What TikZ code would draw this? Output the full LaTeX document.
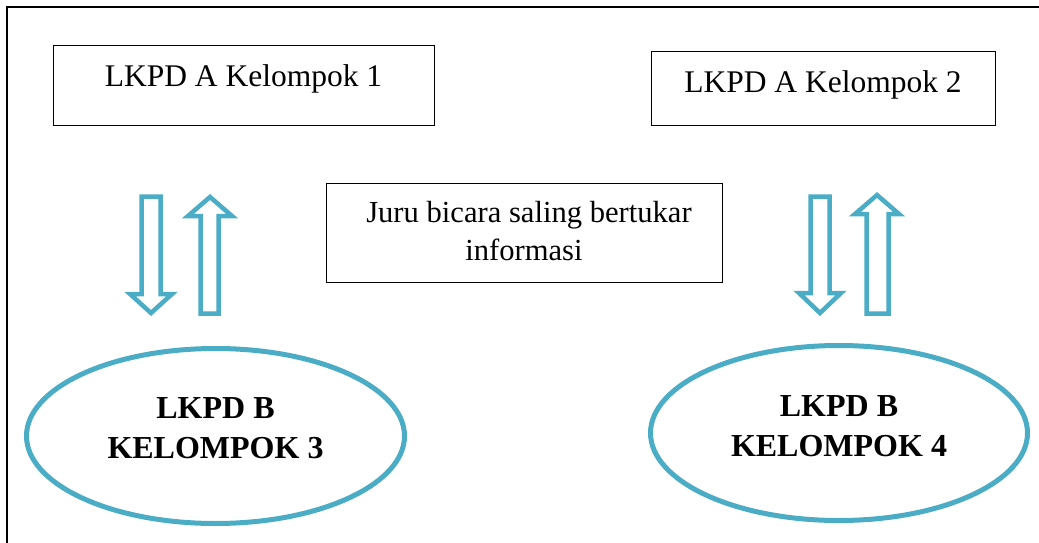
\documentclass[tikz,border=0pt]{standalone}
\usepackage{fontspec}
\setmainfont{Liberation Serif}
\definecolor{accent}{HTML}{4BACC6}
\tikzset{
  plainbox/.style={draw=black, line width=1pt, rectangle, inner sep=0pt},
  ovalbox/.style={draw=accent, line width=5pt, ellipse, inner sep=0pt},
  blockarrow/.style={draw=accent, line width=4.5pt, line join=miter, fill=white},
  boxtext/.style={font=\fontsize{31.5}{36}\selectfont, inner sep=0pt, anchor=base},
  midtext/.style={font=\fontsize{30.6}{36}\selectfont, inner sep=0pt, anchor=base},
  boldtext/.style={font=\fontsize{32}{36}\selectfont\bfseries, inner sep=0pt, anchor=base},
}
\usetikzlibrary{shapes.geometric}
\begin{document}
\begin{tikzpicture}[x=1pt,y=-1pt]
\useasboundingbox (0,0) rectangle (1039,543);
% frame
\coordinate (fbl) at (7,543);
\coordinate (ftl) at (7,7);
\coordinate (ftr) at (1039,7);
\draw[line width=1.2pt] (fbl) -- (ftl) -- (ftr);
% top boxes
\node[plainbox, minimum width=381pt, minimum height=79pt] (box1) at (243.5,85.5) {};
\node[boxtext] (t1) at (243.5,87) {LKPD A Kelompok 1};
\node[plainbox, minimum width=344pt, minimum height=73pt] (box2) at (823,88.5) {};
\node[boxtext] (t2) at (823,92.5) {LKPD A Kelompok 2};
% middle box
\node[plainbox, minimum width=396pt, minimum height=99pt] (box3) at (524,232.5) {};
\node[midtext] (t3a) at (529,222) {Juru bicara saling bertukar};
\node[midtext] (t3b) at (524,260.5) {informasi};
% ellipses
\node[ovalbox, minimum width=378pt, minimum height=175pt] (ell1) at (215.5,436) {};
\node[boldtext] (e1a) at (215.5,418) {LKPD B};
\node[boldtext] (e1b) at (215.5,458) {KELOMPOK 3};
\node[ovalbox, minimum width=377pt, minimum height=175pt] (ell2) at (839,433) {};
\node[boldtext] (e2a) at (839,416) {LKPD B};
\node[boldtext] (e2b) at (839,456) {KELOMPOK 4};
% block arrows left
\draw[blockarrow] (141.5,196.5) -- (160.5,196.5) -- (160.5,294) -- (172,294) -- (151,313) -- (130,294) -- (141.5,294) -- cycle;
\draw[blockarrow] (200.5,313.5) -- (218.5,313.5) -- (218.5,216) -- (232,216) -- (210,197) -- (188,216) -- (200.5,216) -- cycle;
% block arrows right
\draw[blockarrow] (810.5,196.5) -- (829.5,196.5) -- (829.5,293) -- (841,293) -- (820,313) -- (799,293) -- (810.5,293) -- cycle;
\draw[blockarrow] (866.5,313.5) -- (888.5,313.5) -- (888.5,214) -- (899,214) -- (877,195) -- (855,214) -- (866.5,214) -- cycle;
\end{tikzpicture}
\end{document}
